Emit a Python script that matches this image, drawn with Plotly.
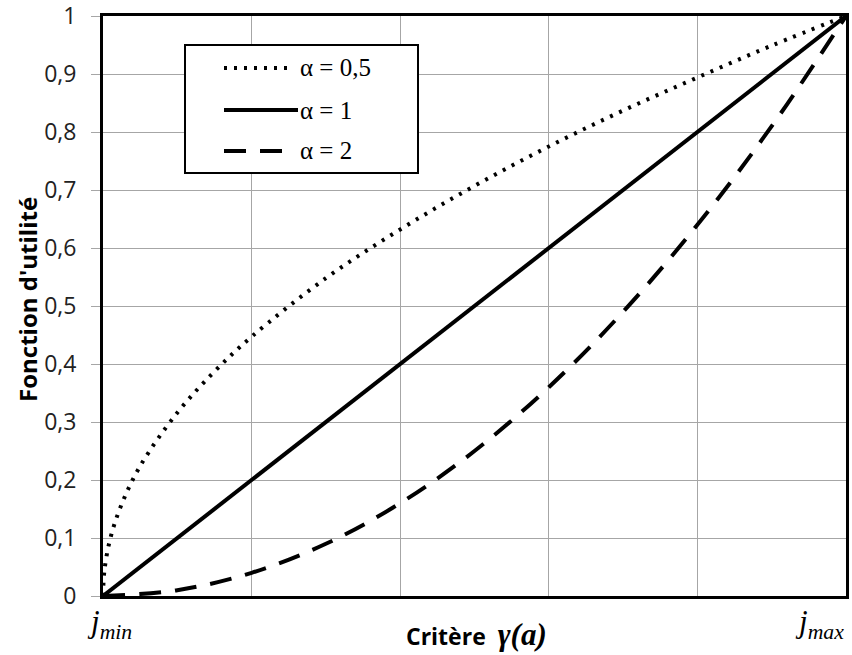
import plotly.graph_objects as go

# ---- data ----
x_half = [0, 0.002, 0.01, 0.025, 0.05, 0.1, 0.15, 0.2, 0.3, 0.4, 0.5, 0.6, 0.7, 0.8, 0.9, 1.0]
y_half = [0, 0.045, 0.10, 0.158, 0.224, 0.316, 0.387, 0.447, 0.548, 0.632, 0.707, 0.775, 0.837, 0.894, 0.949, 1.0]

x_one = [0, 0.2, 0.4, 0.6, 0.8, 1.0]
y_one = [0, 0.2, 0.4, 0.6, 0.8, 1.0]

x_two = [0, 0.1, 0.2, 0.3, 0.4, 0.5, 0.6, 0.7, 0.8, 0.9, 1.0]
y_two = [0, 0.01, 0.04, 0.09, 0.16, 0.25, 0.36, 0.49, 0.64, 0.81, 1.0]

series_names = ["α = 0,5", "α = 1", "α = 2"]
y_ticks = [0, 0.1, 0.2, 0.3, 0.4, 0.5, 0.6, 0.7, 0.8, 0.9, 1]
y_tick_labels = ["0", "0,1", "0,2", "0,3", "0,4", "0,5", "0,6", "0,7", "0,8", "0,9", "1"]
x_grid = [0, 0.2, 0.4, 0.6, 0.8, 1.0]

dashes = ["3px,7px", "solid", "22px,14px"]

W, H = 852, 655
L, R, T, B = 103, 846, 16, 596

fig = go.Figure()
fig.add_trace(go.Scatter(x=x_half, y=y_half, mode="lines", line=dict(color="black", width=4, dash=dashes[0], shape="spline"), name=series_names[0]))
fig.add_trace(go.Scatter(x=x_one, y=y_one, mode="lines", line=dict(color="black", width=4), name=series_names[1]))
fig.add_trace(go.Scatter(x=x_two, y=y_two, mode="lines", line=dict(color="black", width=4, dash=dashes[2], shape="spline"), name=series_names[2]))

fig.update_layout(
    width=W, height=H,
    margin=dict(l=L, r=W - R, t=T, b=H - B, pad=0),
    paper_bgcolor="white", plot_bgcolor="white",
    showlegend=False,
    xaxis=dict(range=[0, 1], tickvals=x_grid, showticklabels=False, ticks="",
               showgrid=True, gridcolor="#a6a6a6", gridwidth=1, zeroline=False, automargin=False,
               showline=True, linecolor="black", linewidth=3, mirror=True),
    yaxis=dict(range=[0, 1], tickvals=y_ticks, ticktext=y_tick_labels, ticks="outside",
               ticklen=9, tickcolor="#a6a6a6", ticklabelstandoff=10, ticklabeloverflow="allow",
               tickfont=dict(family="Open Sans", size=23, color="#222"),
               showgrid=True, gridcolor="#a6a6a6", gridwidth=1, zeroline=False, automargin=False,
               showline=True, linecolor="black", linewidth=3, mirror=True),
)

def px(xp):
    return (xp - L) / (R - L)

def py(yp):
    return (B - yp) / (B - T)

# y-axis title
fig.add_annotation(xref="paper", yref="paper", x=px(27), y=py(300), xanchor="center", yanchor="middle",
                   text="<b>Fonction d'utilité</b>", textangle=-90, showarrow=False,
                   font=dict(family="Open Sans", size=24, color="black"))

# legend box
fig.add_shape(type="rect", xref="paper", yref="paper", x0=px(185), x1=px(418), y0=py(173), y1=py(45),
              line=dict(color="black", width=2), fillcolor="white", layer="above")
rows_y = [68, 110, 151]
sample_end = [289, 298, 284]
for i in range(3):
    fig.add_shape(type="line", xref="paper", yref="paper", x0=px(224), x1=px(sample_end[i]),
                  y0=py(rows_y[i]), y1=py(rows_y[i]),
                  line=dict(color="black", width=4, dash=dashes[i]),
                  layer="above")
    fig.add_annotation(xref="paper", yref="paper", x=px(298), y=py(rows_y[i]), xanchor="left", yanchor="middle",
                       text=series_names[i], showarrow=False,
                       font=dict(family="Liberation Serif", size=25, color="black"))

# x-axis end labels and title
fig.add_annotation(xref="paper", yref="paper", x=px(109), y=py(624), xanchor="center", yanchor="middle",
                   text="<i>j<sub>min</sub></i>", showarrow=False,
                   font=dict(family="Liberation Serif", size=31, color="black"))
fig.add_annotation(xref="paper", yref="paper", x=px(819), y=py(624), xanchor="center", yanchor="middle",
                   text="<i>j<sub>max</sub></i>", showarrow=False,
                   font=dict(family="Liberation Serif", size=31, color="black"))
fig.add_annotation(xref="paper", yref="paper", x=px(476), y=py(634), xanchor="center", yanchor="middle",
                   text="<b>Critère</b>  <b><i><span style=\"font-family:'Liberation Serif';font-size:31px\">γ(a)</span></i></b>",
                   showarrow=False, font=dict(family="Open Sans", size=23, color="black"))

# remove the page's default body margin so the figure fills the 852x655 window exactly
fig.write_html("out.html", config={"displayModeBar": False},
               post_script="document.body.style.margin='0';document.body.style.padding='0';document.body.style.overflow='hidden';")
